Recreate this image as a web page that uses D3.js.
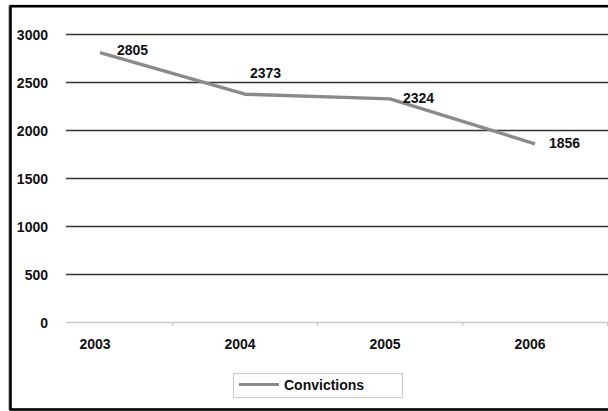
<!DOCTYPE html>
<html>
<head>
<meta charset="utf-8">
<script src="https://cdn.jsdelivr.net/npm/d3@7"></script>
<style>
  html, body { margin: 0; padding: 0; background: #fff; }
  svg { display: block; font-family: "Liberation Sans", Arial, sans-serif; }
</style>
</head>
<body>
<svg id="chart" width="608" height="411"></svg>
<script>
// Convictions per year
const years = ["2003", "2004", "2005", "2006"];
const convictions = [2805, 2373, 2324, 1856];
const yTicks = [0, 500, 1000, 1500, 2000, 2500, 3000];
const seriesName = "Convictions";

// per-label nudges for the value labels (dx from point to label start, dy to baseline)
const labelNudge = [[17, 2], [5, -16], [13, 4], [14, 4]];

const svg = d3.select("#chart");
const W = 608, H = 411;

// plot geometry
const plotLeft = 66, plotRight = 640;
const y = d3.scaleLinear().domain([0, 3000]).range([322, 34]);
const x = d3.scalePoint().domain(years).range([100, 535]);
const step = x.step();

// outer frame
svg.append("rect")
  .attr("x", 8).attr("y", 6).attr("width", 1.5).attr("height", 404)
  .attr("fill", "#bbb");
svg.append("rect")
  .attr("x", 10.5).attr("y", 6.2).attr("width", 640).attr("height", 403.3)
  .attr("fill", "none").attr("stroke", "#000").attr("stroke-width", 2.6);

// horizontal gridlines
svg.append("g")
  .selectAll("line")
  .data(yTicks.filter(d => d > 0))
  .join("line")
  .attr("x1", plotLeft).attr("x2", plotRight)
  .attr("y1", d => Math.round(y(d)) + 0.5).attr("y2", d => Math.round(y(d)) + 0.5)
  .attr("stroke", "#333").attr("stroke-width", 1.3);

// category axis (zero line)
svg.append("line")
  .attr("x1", plotLeft).attr("x2", plotRight)
  .attr("y1", Math.round(y(0)) + 0.5).attr("y2", Math.round(y(0)) + 0.5)
  .attr("stroke", "#c8c8c8").attr("stroke-width", 1.3);

// category separators on the axis
svg.append("g")
  .selectAll("line")
  .data(years)
  .join("line")
  .attr("x1", d => x(d) + step / 2).attr("x2", d => x(d) + step / 2)
  .attr("y1", y(0)).attr("y2", y(0) + 4)
  .attr("stroke", "#c8c8c8").attr("stroke-width", 1.3);

// value axis labels
svg.append("g")
  .selectAll("text")
  .data(yTicks)
  .join("text")
  .attr("x", 48)
  .attr("y", d => y(d) + 6)
  .attr("text-anchor", "end")
  .attr("font-size", 14).attr("font-weight", "bold").attr("fill", "#111")
  .text(d => d);

// category labels
svg.append("g")
  .selectAll("text")
  .data(years)
  .join("text")
  .attr("x", d => x(d) - 5)
  .attr("y", y(0) + 27)
  .attr("text-anchor", "middle")
  .attr("font-size", 14).attr("font-weight", "bold").attr("fill", "#111")
  .text(d => d);

// series line
const pts = years.map((yr, i) => [x(yr), y(convictions[i])]);
svg.append("path")
  .datum(pts)
  .attr("d", d3.line())
  .attr("fill", "none")
  .attr("stroke", "#8a8a8a").attr("stroke-width", 3.4)
  .attr("stroke-linejoin", "round");

// value labels
svg.append("g")
  .selectAll("text")
  .data(convictions)
  .join("text")
  .attr("x", (d, i) => x(years[i]) + labelNudge[i][0])
  .attr("y", (d, i) => y(d) + labelNudge[i][1])
  .attr("font-size", 14).attr("font-weight", "bold").attr("fill", "#111")
  .text(d => d);

// legend
const lg = svg.append("g");
lg.append("rect")
  .attr("x", 233.5).attr("y", 373.5).attr("width", 169).attr("height", 24)
  .attr("fill", "#fff").attr("stroke", "#ccc").attr("stroke-width", 1.2);
lg.append("line")
  .attr("x1", 239).attr("x2", 279).attr("y1", 384.5).attr("y2", 384.5)
  .attr("stroke", "#8a8a8a").attr("stroke-width", 3.2);
lg.append("text")
  .attr("x", 284).attr("y", 390)
  .attr("font-size", 14).attr("font-weight", "bold").attr("fill", "#111")
  .text(seriesName);
</script>
</body>
</html>
